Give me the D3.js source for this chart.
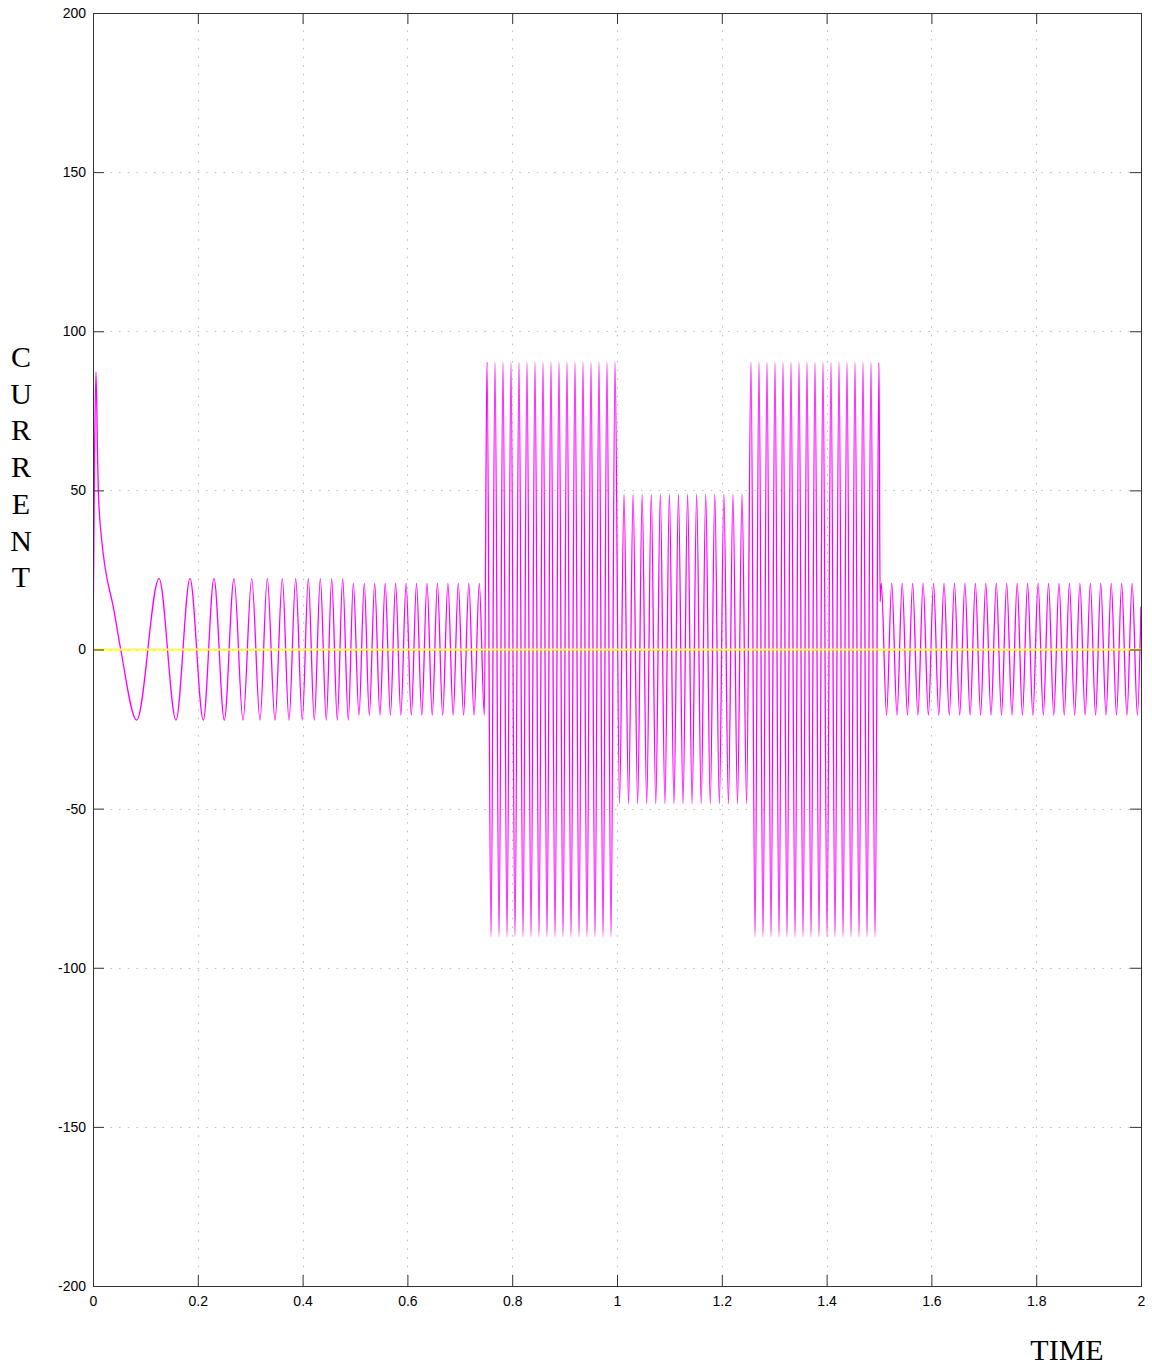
<!DOCTYPE html>
<html>
<head>
<meta charset="utf-8">
<script src="https://cdn.jsdelivr.net/npm/d3@7"></script>
<style>
  html, body { margin: 0; padding: 0; background: #fff; }
  svg { display: block; }
</style>
</head>
<body>
<svg id="chart" width="1152" height="1367"></svg>
<script>
// ---------------- DATA ----------------
const xTicks = [0, 0.2, 0.4, 0.6, 0.8, 1, 1.2, 1.4, 1.6, 1.8, 2];
const yTicks = [-200, -150, -100, -50, 0, 50, 100, 150, 200];
const yAxisTitle = "CURRENT";
const xAxisTitle = "TIME";

// start-up transient (time, current)
const startT = [0, 0.0029, 0.0057, 0.0086, 0.0101, 0.0166, 0.0229, 0.0387, 0.0529];
const startV = [0, 60, 87.2, 62, 50, 34.4, 26, 13.4, 0];

// extremum times of each oscillating stretch (alternating peak / trough)
const accelT = [0.0834, 0.1260, 0.1584, 0.1851, 0.2105, 0.2309, 0.2506, 0.2691, 0.2863, 0.3029,
  0.3187, 0.3326, 0.3473, 0.3613, 0.3740, 0.3868, 0.3994, 0.4109, 0.4223, 0.4338, 0.4452,
  0.4555, 0.4662, 0.4765, 0.4872];
const steady1T = [0.4968, 0.5076, 0.5177, 0.5273, 0.5376, 0.5476, 0.5576, 0.5676, 0.5775, 0.5875,
  0.5975, 0.6075, 0.6174, 0.6274, 0.6374, 0.6474, 0.6573, 0.6673, 0.6773, 0.6873, 0.6971,
  0.7072, 0.7172, 0.7272, 0.7372, 0.7468];
const load1T = [0.7519, 0.7595, 0.7672, 0.7748, 0.7824, 0.7901, 0.7977, 0.8053, 0.8130, 0.8206,
  0.8282, 0.8359, 0.8435, 0.8511, 0.8588, 0.8664, 0.8740, 0.8817, 0.8893, 0.8969, 0.9046,
  0.9122, 0.9198, 0.9275, 0.9351, 0.9427, 0.9504, 0.9580, 0.9656, 0.9733, 0.9809, 0.9885, 0.9962];
const midT = [1.0048, 1.0134, 1.0221, 1.0307, 1.0394, 1.0480, 1.0567, 1.0654, 1.0740, 1.0827,
  1.0914, 1.1000, 1.1087, 1.1173, 1.1260, 1.1347, 1.1433, 1.1520, 1.1607, 1.1693, 1.1780,
  1.1866, 1.1953, 1.2040, 1.2126, 1.2213, 1.2299, 1.2386, 1.2473];
const load2T = [1.2557, 1.2634, 1.2710, 1.2786, 1.2863, 1.2939, 1.3015, 1.3092, 1.3168, 1.3244,
  1.3321, 1.3397, 1.3473, 1.3550, 1.3626, 1.3702, 1.3779, 1.3855, 1.3931, 1.4008, 1.4084,
  1.4160, 1.4237, 1.4313, 1.4389, 1.4466, 1.4542, 1.4618, 1.4695, 1.4771, 1.4847, 1.4924, 1.5000];
const notchT = [1.5021];
const notchV = [15];
const steady2T = [1.5044, 1.5144, 1.5243, 1.5343, 1.5443, 1.5543, 1.5642, 1.5742, 1.5842, 1.5942,
  1.6041, 1.6141, 1.6241, 1.6341, 1.6440, 1.6540, 1.6639, 1.6739, 1.6839, 1.6939, 1.7038,
  1.7138, 1.7238, 1.7338, 1.7437, 1.7537, 1.7637, 1.7737, 1.7836, 1.7936, 1.8036, 1.8136,
  1.8235, 1.8335, 1.8435, 1.8535, 1.8634, 1.8734, 1.8834, 1.8934, 1.9033, 1.9133, 1.9232,
  1.9332, 1.9432, 1.9532, 1.9631, 1.9731, 1.9831, 1.9931];
const endT = [2.0];
const endV = [13.5];

// peak / trough level of each stretch, and whether it starts on a peak
const stretchNames = ["accel", "steady1", "load1", "mid", "load2", "steady2"];
const stretchPeak   = [22.3, 20.8, 90.3, 48.8, 90.3, 20.8];
const stretchTrough = [-22.2, -20.6, -90.2, -48.5, -90.2, -20.6];
const stretchStartsOnPeak = [false, true, true, false, true, true];

// reference signal (yellow) at zero
const refT = [0, 2];
const refV = [0, 0];

// ---------------- BUILD SERIES ----------------
const stretchTimes = [accelT, steady1T, load1T, midT, load2T, steady2T];
const currentPts = [];
startT.forEach((t, i) => currentPts.push([t, startV[i]]));
function addStretch(k) {
  stretchTimes[k].forEach((t, i) => {
    const isPeak = stretchStartsOnPeak[k] ? (i % 2 === 0) : (i % 2 === 1);
    currentPts.push([t, isPeak ? stretchPeak[k] : stretchTrough[k]]);
  });
}
for (let k = 0; k < 5; k++) addStretch(k);
notchT.forEach((t, i) => currentPts.push([t, notchV[i]]));
addStretch(5);
endT.forEach((t, i) => currentPts.push([t, endV[i]]));

// ---------------- DRAW ----------------
const svg = d3.select("#chart");
const L = 93, R = 1141, T = 13, B = 1286;
const x = d3.scaleLinear().domain([0, 2]).range([L, R]);
const y = d3.scaleLinear().domain([-200, 200]).range([B, T]);

svg.append("defs").append("clipPath").attr("id", "clip")
  .append("rect").attr("x", L).attr("y", T).attr("width", R - L).attr("height", B - T);

// grid
const grid = svg.append("g").attr("stroke", "#bdbdbd").attr("stroke-width", 1)
  .attr("stroke-dasharray", "1.5,7.2");
xTicks.slice(1, -1).forEach(v => grid.append("line")
  .attr("x1", Math.round(x(v)) + 0.5).attr("x2", Math.round(x(v)) + 0.5)
  .attr("y1", T).attr("y2", B));
yTicks.slice(1, -1).forEach(v => grid.append("line")
  .attr("y1", Math.round(y(v)) + 0.5).attr("y2", Math.round(y(v)) + 0.5)
  .attr("x1", L).attr("x2", R));

// signals
const line = d3.line().x(d => x(d[0])).y(d => y(d[1])).curve(d3.curveMonotoneX);
const plot = svg.append("g").attr("clip-path", "url(#clip)");
plot.append("path").datum(currentPts).attr("d", line)
  .attr("fill", "none").attr("stroke", "#ff00ff").attr("stroke-width", 1.3);
plot.append("path").datum(refT.map((t, i) => [t, refV[i]])).attr("d", d3.line().x(d => x(d[0])).y(d => y(d[1])))
  .attr("fill", "none").attr("stroke", "#ffff33").attr("stroke-width", 2);

// axes (inside ticks on all four sides)
const tickLen = 11;
const axisColor = "#333";
const fmt = d => String(d);
svg.append("g").attr("transform", `translate(0,${B})`)
  .call(d3.axisBottom(x).tickValues(xTicks).tickSizeInner(-tickLen).tickSizeOuter(0).tickPadding(10).tickFormat(fmt))
  .call(g => g.select(".domain").remove());
svg.append("g").attr("transform", `translate(0,${T})`)
  .call(d3.axisTop(x).tickValues(xTicks).tickSizeInner(-tickLen).tickSizeOuter(0).tickFormat(""))
  .call(g => g.select(".domain").remove());
svg.append("g").attr("transform", `translate(${L},0)`)
  .call(d3.axisLeft(y).tickValues(yTicks).tickSizeInner(-tickLen).tickSizeOuter(0).tickPadding(7).tickFormat(fmt))
  .call(g => g.select(".domain").remove());
svg.append("g").attr("transform", `translate(${R},0)`)
  .call(d3.axisRight(y).tickValues(yTicks).tickSizeInner(-tickLen).tickSizeOuter(0).tickFormat(""))
  .call(g => g.select(".domain").remove());

svg.selectAll(".tick line").attr("stroke", axisColor);
svg.selectAll(".tick text").attr("fill", "#000")
  .attr("font-family", "'Liberation Sans', Arial, sans-serif").attr("font-size", 14)
  .style("font-family", "'Liberation Sans', Arial, sans-serif").style("font-size", "14px");

svg.append("rect").attr("x", L + 0.5).attr("y", T + 0.5).attr("width", R - L).attr("height", B - T)
  .attr("fill", "none").attr("stroke", axisColor).attr("stroke-width", 1);

// titles
const serif = "'Liberation Serif', 'Times New Roman', serif";
yAxisTitle.split("").forEach((ch, i) => svg.append("text")
  .attr("x", 21).attr("y", 367 + i * 36.7).attr("text-anchor", "middle")
  .style("font-family", serif).style("font-size", "30px").attr("fill", "#000").text(ch));
svg.append("text").attr("x", 1067).attr("y", 1360).attr("text-anchor", "middle")
  .style("font-family", serif).style("font-size", "30px").attr("fill", "#000").text(xAxisTitle);
</script>
</body>
</html>
